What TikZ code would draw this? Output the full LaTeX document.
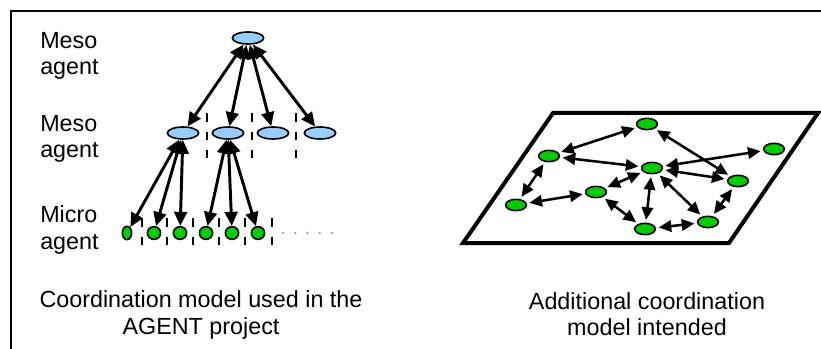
\documentclass[tikz,border=0pt]{standalone}
\usepackage{fontspec}
\setmainfont{Liberation Sans}
\usetikzlibrary{arrows.meta,shapes.geometric}

\definecolor{mesoblue}{RGB}{153,204,255}
\definecolor{microgreen}{RGB}{0,204,0}

\begin{document}
\begin{tikzpicture}[
  x=0.75pt, y=-0.75pt,
  font=\fontsize{17.5}{20}\selectfont,
  meso/.style={draw, ellipse, line width=1.2pt, fill=mesoblue,
    minimum width=23.5pt, minimum height=9pt, inner sep=0pt},
  micro/.style={draw, ellipse, line width=1.2pt, fill=microgreen,
    minimum width=10pt, minimum height=9.5pt, inner sep=0pt},
  peer/.style={draw, ellipse, line width=1.2pt, fill=microgreen,
    minimum width=15.5pt, minimum height=8.5pt, inner sep=0pt},
  lnk/.style={{Triangle[length=10.5pt,width=9.5pt]}-{Triangle[length=10.5pt,width=9.5pt]},
    line width=2.2pt},
  plnk/.style={{Triangle[length=9.5pt,width=8.5pt]}-{Triangle[length=9.5pt,width=8.5pt]},
    line width=1.9pt, shorten <=2pt, shorten >=2pt},
  sep/.style={line width=2.2pt, dash pattern=on 6.5pt off 7.5pt},
  lbl/.style={align=left, anchor=west, inner sep=0pt},
  capt/.style={align=center, inner sep=0pt}
]
\useasboundingbox (0,0) rectangle (821,349);
\draw[line width=1.7pt] (11,349) -- (11,11) -- (821,11);

% level labels
\node[lbl] (l1) at (40,56) {Meso\\agent};
\node[lbl] (l2) at (40,139) {Meso\\agent};
\node[lbl] (l3) at (40,230) {Micro\\agent};

% hierarchy
\foreach \x in {207,252,296} \draw[sep] (\x,113) -- (\x,158);
\foreach \x in {142,167,193,219,245,272} \draw[sep] (\x,218) -- (\x,247);

\node[meso] (t) at (248,38) {};
\node[meso] (m1) at (183,133) {};
\node[meso] (m2) at (228,133) {};
\node[meso] (m3) at (273,133) {};
\node[meso] (m4) at (320,133) {};

\node[micro, minimum width=7pt, minimum height=10pt] (u1) at (127,233) {};
\node[micro] (u2) at (154,233) {};
\node[micro] (u3) at (180,233) {};
\node[micro] (u4) at (206,233) {};
\node[micro] (u5) at (232,233) {};
\node[micro] (u6) at (258,233) {};
\draw[gray!70, line width=2pt, line cap=round, dash pattern=on 0pt off 9.2pt]
  (283,233) -- (334,233);

\foreach \m in {m1,m2,m3,m4} \draw[lnk] (t) -- (\m);
\foreach \u in {u1,u2,u3} \draw[lnk] (m1) -- (\u);
\foreach \u in {u4,u5,u6} \draw[lnk] (m2) -- (\u);

% flat coordination plane
\draw[line width=3pt, line join=miter] (553,113) -- (818,113) -- (729,243) -- (463,243) -- cycle;

\node[peer] (p1) at (647,124) {};
\node[peer] (p2) at (549,156) {};
\node[peer] (p3) at (652,168) {};
\node[peer] (p4) at (774,149) {};
\node[peer] (p5) at (738,181) {};
\node[peer] (p6) at (596,192) {};
\node[peer] (p7) at (516,205) {};
\node[peer] (p8) at (708,222) {};
\node[peer] (p9) at (645,229) {};

\draw[plnk] (p1) -- (p2);
\draw[plnk] (p2) -- (p3);
\draw[plnk] (p1) -- (p5);
\draw[plnk] (p3) -- (p4);
\draw[plnk] (p3) -- (p5);
\draw[plnk] (p2) -- (p7);
\draw[plnk] (p7) -- (p6);
\draw[plnk] (p6) -- (p3);
\draw[plnk] (p3) -- (p9);
\draw[plnk] (p3) -- (p8);
\draw[plnk] (p6) -- (p9);
\draw[plnk] (p9) -- (p8);
\draw[plnk] (p5) -- (p8);

% captions
\node[capt] (c1) at (201,315) {Coordination model used in the\\AGENT project};
\node[capt] (c2) at (647,314) {Additional coordination\\model intended};
\end{tikzpicture}
\end{document}
